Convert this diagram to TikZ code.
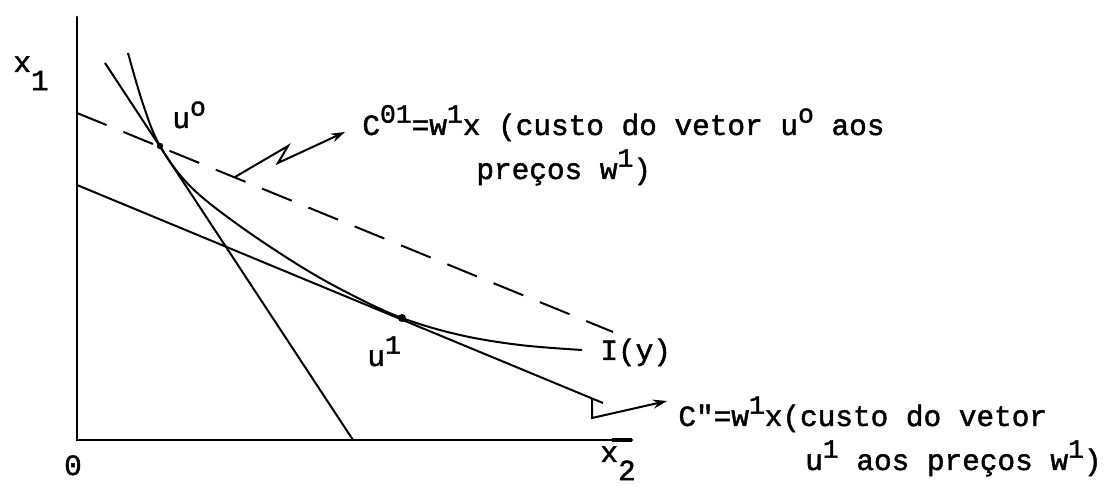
\documentclass[tikz,border=0pt]{standalone}
\usepackage{fontspec}
\newfontfamily\tw{Liberation Mono}[FakeBold=1.6]
\usetikzlibrary{arrows.meta}
\newcommand\hi[1]{\raisebox{0.42em}{\fontsize{13.2}{14}\selectfont #1}}
\newcommand\lo[1]{\raisebox{-0.62em}{#1}}
\tikzset{
  lbl/.style={inner sep=0pt, font=\tw\fontsize{14.7}{16}\selectfont},
  axis/.style={line width=1.4pt, line cap=round},
  ln/.style={line width=1pt},
  dash line/.style={line width=1pt, dash pattern=on 16pt off 9pt},
  ptr/.style={line width=1pt, -{Stealth[length=7pt,width=4.5pt]}},
}
\begin{document}
\begin{tikzpicture}[x=0.5pt,y=-0.5pt]
\useasboundingbox (0,0) rectangle (1105,490);
% key points
\coordinate (O) at (77,440);
\coordinate (ytop) at (77,17);
\coordinate (xend) at (632,440);
\coordinate (u0) at (160,146);
\coordinate (u1) at (402,318);
% axes
\draw[axis] (ytop) -- (O) -- (xend);
\draw[line width=2.2pt] (612,440) -- (xend);
% dashed cost line C01
\coordinate (d0) at (77,113);
\coordinate (d1) at (613,332);
\draw[dash line] (d0) -- (d1);
% steep price line
\coordinate (s0) at (105,63);
\coordinate (s1) at (353,440);
\draw[ln] (s0) -- (s1);
% lower cost line C''
\coordinate (l0) at (77,185);
\coordinate (l1) at (603,403);
\draw[ln] (l0) -- (l1);
% isoquant I(y)
\draw[ln] plot[smooth, tension=0.6] coordinates {(128,53) (143,104) (160,146) (190,186) (237,224) (300,266) (350,294) (402,318) (460,335) (520,345) (582,350)};
\fill (u0) circle (1.6pt);
\fill (u1) circle (2pt);
% annotation arrow 1 (zigzag)
\coordinate (a0) at (235,177);
\coordinate (a1) at (288,146);
\coordinate (a2) at (278,163);
\coordinate (a3) at (345,132);
\draw[ptr] (a0) -- (a1) -- (a2) -- (a3);
% annotation arrow 2 (L shape)
\coordinate (b0) at (592,399);
\coordinate (b1) at (592,418);
\coordinate (b2) at (667,401);
\draw[ptr] (b0) -- (b1) -- (b2);
% labels
\node[lbl, anchor=base west] (x1) at (13,72) {x\lo{1}};
\node[lbl, anchor=base west] (x2) at (600,462) {x\lo{2}};
\node[lbl, anchor=base] (zero) at (73,475) {0};
\node[lbl, anchor=base west] (lu0) at (172,128) {u\hi{o}};
\node[lbl, anchor=base west] (lu1) at (367,366) {u\hi{1}};
\node[lbl, anchor=base west] (Iy) at (600,360) {I(y)};
\node[lbl, anchor=base west] (c01a) at (362,135) {C\hi{01}=w\hi{1}x (custo do vetor u\hi{o} aos};
\node[lbl, anchor=base west] (c01b) at (476,179) {preços w\hi{1})};
\node[lbl, anchor=base west] (c11a) at (678,426) {C\symbol{34}=w\hi{1}x(custo do vetor};
\node[lbl, anchor=base east] (c11b) at (1102,470) {u\hi{1} aos preços w\hi{1})};
\end{tikzpicture}
\end{document}
